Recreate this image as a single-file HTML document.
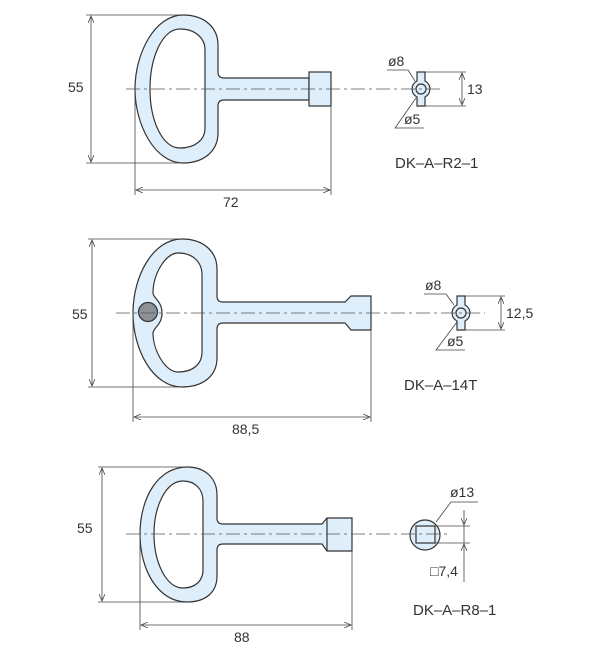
<!DOCTYPE html>
<html><head><meta charset="utf-8"><style>
html,body{margin:0;padding:0;background:#fff;}
svg{display:block;}
text{font-family:"Liberation Sans",sans-serif;fill:#333;}
</style></head><body>
<svg width="600" height="649" viewBox="0 0 600 649" xmlns="http://www.w3.org/2000/svg">
<defs>
<marker id="a" markerWidth="8" markerHeight="6" refX="7" refY="3" orient="auto-start-reverse" markerUnits="userSpaceOnUse">
<path d="M0,0 L7,3 L0,6" fill="none" stroke="#444" stroke-width="0.8"/></marker>
</defs>
<g stroke="#333" stroke-width="1.2" fill="#deeefa">
<!-- Key 1 -->
<path fill-rule="evenodd" d="M183,15 C205,15 218,28 218,45 L218,72 Q218,78 224,78 L309,78 L309,100 L224,100 Q218,100 218,106 L218,133 C218,150 205,163 183,163 C155,163 135,125 135,89 C135,53 155,15 183,15 Z
M180,29 C195,29 205,38 205,50 L205,128 C205,140 195,148 180,148 C162,148 150,120 150,89 C150,58 162,29 180,29 Z"/>
<rect x="309" y="72" width="22" height="34"/>
<!-- Key 2 -->
<path fill-rule="evenodd" d="M182,239 C204,239 217,252 217,269 L217,296 Q217,302 223,302 L345,302 L351,296 L371,296 L371,330 L351,330 L345,323 L223,323 Q217,323 217,329 L217,358 C217,375 204,387 182,387 C153,387 133,350 133,313 C133,276 153,239 182,239 Z
M178,253 C193,253 202,262 202,275 L202,352 C202,364 193,372 178,372 C165,372 153,350 153,333 C153,328 162,325 162,313 C162,301 153,298 153,293 C153,275 165,253 178,253 Z"/>
<circle cx="148" cy="312" r="9.5" fill="#8c9196" stroke="#333"/>
<!-- Key 3 -->
<path fill-rule="evenodd" d="M187,467 C206,467 217,479 217,495 L217,518 Q217,524 223,524 L322,524 L327,518 L352,518 L352,551 L327,551 L322,544 L223,544 Q217,544 217,550 L217,576 C217,592 206,602 187,602 C158,602 140,570 140,534 C140,498 158,467 187,467 Z
M183,481 C195,481 203,489 203,501 L203,570 C203,581 195,588 183,588 C166,588 154,562 154,534 C154,506 166,481 183,481 Z"/>
<line x1="327" y1="518" x2="327" y2="551"/>
<!-- details -->
<path d="M417,72 h8 v9 A9,9 0 0 1 425,97 v9 h-8 v-9 A9,9 0 0 1 417,81 Z"/>
<circle cx="421" cy="89" r="5"/>
<path d="M457,296 h8 v9 A9,9 0 0 1 465,321 v9 h-8 v-9 A9,9 0 0 1 457,305 Z"/>
<circle cx="461" cy="313" r="5"/>
<circle cx="425" cy="535" r="15"/>
<rect x="416" y="526" width="19" height="17"/>
</g>
<!-- center lines -->
<g stroke="#555" stroke-width="0.8" stroke-dasharray="14,4,3,4" fill="none">
<line x1="126" y1="89" x2="440" y2="89"/>
<line x1="116" y1="313" x2="485" y2="313"/>
<line x1="126" y1="534" x2="450" y2="534"/>
</g>
<!-- dimension lines -->
<g stroke="#444" stroke-width="0.8" fill="none">
<line x1="86" y1="15" x2="183" y2="15"/><line x1="86" y1="163" x2="183" y2="163"/>
<line x1="91" y1="16" x2="91" y2="162" marker-start="url(#a)" marker-end="url(#a)"/>
<line x1="135" y1="89" x2="135" y2="195"/><line x1="331" y1="106" x2="331" y2="195"/>
<line x1="136" y1="190" x2="330" y2="190" marker-start="url(#a)" marker-end="url(#a)"/>

<line x1="88" y1="239" x2="182" y2="239"/><line x1="88" y1="387" x2="182" y2="387"/>
<line x1="92" y1="240" x2="92" y2="386" marker-start="url(#a)" marker-end="url(#a)"/>
<line x1="133" y1="313" x2="133" y2="422"/><line x1="371" y1="330" x2="371" y2="422"/>
<line x1="134" y1="417" x2="370" y2="417" marker-start="url(#a)" marker-end="url(#a)"/>

<line x1="98" y1="467" x2="187" y2="467"/><line x1="98" y1="602" x2="187" y2="602"/>
<line x1="102" y1="468" x2="102" y2="601" marker-start="url(#a)" marker-end="url(#a)"/>
<line x1="140" y1="534" x2="140" y2="630"/><line x1="352" y1="551" x2="352" y2="630"/>
<line x1="141" y1="625" x2="351" y2="625" marker-start="url(#a)" marker-end="url(#a)"/>

<line x1="425" y1="72" x2="466" y2="72"/><line x1="425" y1="106" x2="466" y2="106"/>
<line x1="462" y1="73" x2="462" y2="105" marker-start="url(#a)" marker-end="url(#a)"/>
<polyline points="387,70 408,70 415,81"/>
<polyline points="424,128 395,128 416,98"/>

<line x1="465" y1="296" x2="505" y2="296"/><line x1="465" y1="330" x2="505" y2="330"/>
<line x1="501" y1="297" x2="501" y2="329" marker-start="url(#a)" marker-end="url(#a)"/>
<polyline points="424,294 446,294 454,305"/>
<polyline points="465,350 436,350 457,322"/>

<line x1="435" y1="526" x2="470" y2="526"/><line x1="435" y1="543" x2="470" y2="543"/>
<polyline points="478,502 451,502 436,522"/>
<line x1="464" y1="510" x2="464" y2="525" marker-end="url(#a)"/>
<line x1="464" y1="582" x2="464" y2="544" marker-end="url(#a)"/>
<line x1="464" y1="526" x2="464" y2="543"/>
</g>
<g font-size="14">
<text x="68" y="92">55</text>
<text x="72" y="319">55</text>
<text x="77" y="533">55</text>
<text x="223" y="207">72</text>
<text x="232" y="434">88,5</text>
<text x="234" y="642">88</text>
<text x="467" y="94">13</text>
<text x="506" y="318">12,5</text>
<text x="388" y="66">ø8</text>
<text x="404" y="124">ø5</text>
<text x="425" y="290">ø8</text>
<text x="447" y="346">ø5</text>
<text x="450" y="497">ø13</text>
<text x="430" y="576">□7,4</text>
<text x="395" y="168" font-size="15">DK–A–R2–1</text>
<text x="404" y="390" font-size="15">DK–A–14T</text>
<text x="413" y="615" font-size="15">DK–A–R8–1</text>
</g>
</svg>
</body></html>
